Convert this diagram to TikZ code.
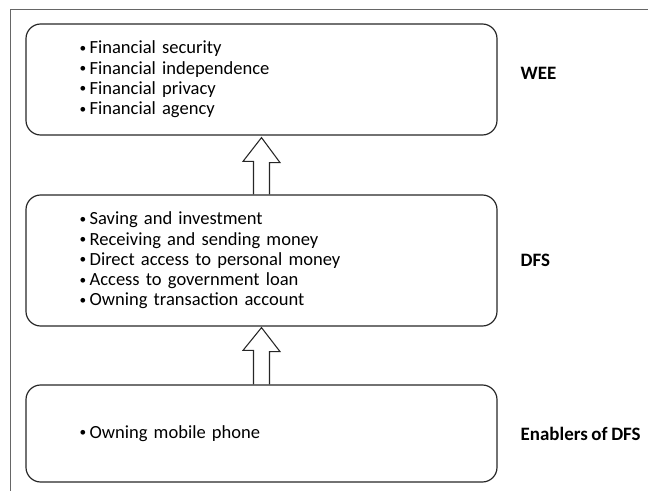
\documentclass[tikz,border=0pt]{standalone}
\usepackage{fontspec}
\setmainfont{Carlito}[WordSpace=0.85]
\usetikzlibrary{calc}

\newcommand{\bul}{\raisebox{1.2pt}{\fontsize{10}{10}\selectfont•}\kern2.6pt}

\tikzset{
	listbox/.style={draw=black!85, line width=0.9pt, rounded corners=11pt, minimum width=353.25pt, inner xsep=40pt, text width=273pt, align=left, font=\fontsize{13.9}{15.2}\selectfont},
	levellabel/.style={anchor=west, font=\fontsize{14.2}{15.2}\selectfont\bfseries},
	blockarrow/.style={draw=black!85, line width=0.8pt, line join=miter}
}

\begin{document}
\begin{tikzpicture}[x=0.75pt,y=0.75pt,yscale=-1,xscale=1]
		\useasboundingbox (0,0) rectangle (648,491);
		
		%Shape: Frame
		\draw [color=black!60, line width=0.6pt] (10,491) -- (10,9) -- (648,9) ;
		
		%Shape: Rounded Rect
		\node [listbox, minimum height=83.25pt] (wee) at (261.5,79.5) {\bul Financial security\\\bul Financial independence\\\bul Financial privacy\\\bul Financial agency};
		%Shape: Rounded Rect
		\node [listbox, minimum height=98.25pt] (dfs) at (261.5,260.5) {\bul Saving and investment\\\bul Receiving and sending money\\\bul Direct access to personal money\\\bul Access to government loan\\\bul Owning transaction account};
		%Shape: Rounded Rect
		\node [listbox, minimum height=72.75pt] (enab) at (261.5,433.5) {\bul Owning mobile phone};
		
		%Shape: Up Arrow
		\draw [blockarrow] ($(dfs.north)+(-8,0)$) -- ++(0,-33) -- ++(-10.5,0) -- ($(wee.south)+(0,2)$) -- ++(18.5,25) -- ++(-10.5,0) -- ($(dfs.north)+(8,0)$) ;
		%Shape: Up Arrow
		\draw [blockarrow] ($(enab.north)+(-8,0)$) -- ++(0,-34) -- ++(-10.5,0) -- ($(dfs.south)+(0,1)$) -- ++(18.5,24) -- ++(-10.5,0) -- ($(enab.north)+(8,0)$) ;
		
		% Text Node
		\node [levellabel] (weelbl) at (516,73) {WEE};
		% Text Node
		\node [levellabel] (dfslbl) at (516,260) {DFS};
		% Text Node
		\node [levellabel] (enablbl) at (516,434) {Enablers of DFS};
		
\end{tikzpicture}
\end{document}
